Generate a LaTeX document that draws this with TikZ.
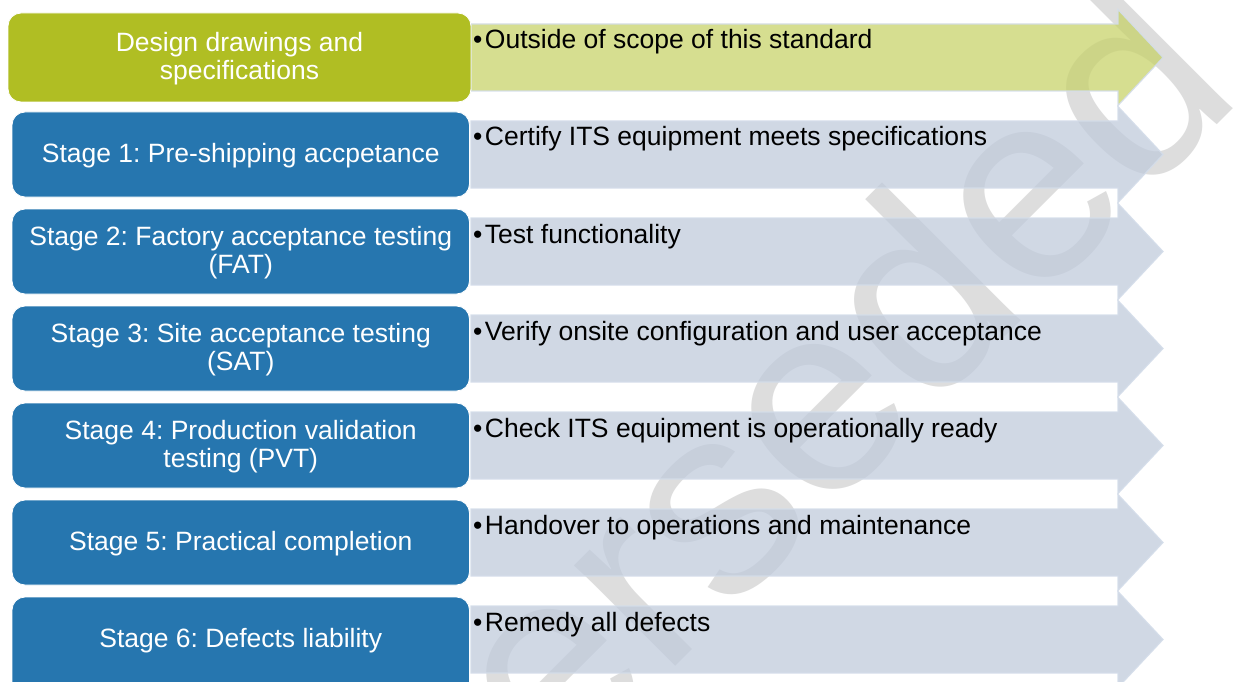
\documentclass[tikz,border=0pt]{standalone}
\usepackage{fontspec}
\setmainfont{Liberation Sans}
\frenchspacing
\definecolor{boxgreen}{RGB}{176,190,35}
\definecolor{boxblue}{RGB}{38,118,175}
\definecolor{arrblue}{RGB}{191,202,219}
\definecolor{arrgreen}{RGB}{199,210,104}
\definecolor{arredge}{RGB}{212,221,234}
\definecolor{wmgrey}{RGB}{221,221,221}
\newcommand\twoline[2]{\begin{tabular}[t]{@{}c@{}}#1\\#2\end{tabular}}
\newcommand\rowarrow[2]{%
  \path[arrowshape, fill=#2]
    (471,#1-33.5) -- (1118,#1-33.5) -- (1118,#1-48) -- (1163,#1)
    -- (1118,#1+48) -- (1118,#1+33.5) -- (471,#1+33.5) -- cycle;}
\begin{document}
\begin{tikzpicture}[x=1pt,y=-1pt,
  arrowshape/.style={fill opacity=0.73, draw=arredge, draw opacity=0.9, line width=1.2pt},
  stagebox/.style={fill=boxblue, draw=white, line width=0.8pt, rounded corners=13pt,
    minimum width=457.5pt, minimum height=85pt, inner sep=0pt, text=white,
    font=\fontsize{26.5}{28}\selectfont\frenchspacing, text height=16pt},
  oneline/.style={text depth=0pt},
  twolines/.style={text depth=28.5pt},
  desc/.style={anchor=base west, inner sep=0pt, text=black,
    font=\fontsize{26.5}{28}\selectfont\frenchspacing},
  wmark/.style={anchor=base west, rotate=45, inner sep=0pt, text=wmgrey,
    font=\fontsize{270}{270}\selectfont}]
\useasboundingbox (0,0) rectangle (1237,682);
\clip (0,0) rectangle (1237,682);
\fill[white] (0,0) rectangle (1237,682);
% watermark
\node[wmark] (watermark) at (216.5,1125.5) {Superseded};
% arrows
\rowarrow{57.5}{arrgreen}
\rowarrow{154.5}{arrblue}
\rowarrow{251.5}{arrblue}
\rowarrow{348.5}{arrblue}
\rowarrow{445.5}{arrblue}
\rowarrow{542.5}{arrblue}
\rowarrow{639.5}{arrblue}
% descriptions
\node[desc] (d0) at (473,49)  {\textbullet\hspace{2.5pt}Outside of scope of this standard};
\node[desc] (d1) at (473,146) {\textbullet\hspace{2.5pt}Certify ITS equipment meets specifications};
\node[desc] (d2) at (473,243) {\textbullet\hspace{2.5pt}Test functionality};
\node[desc] (d3) at (473,340) {\textbullet\hspace{2.5pt}Verify onsite configuration and user acceptance};
\node[desc] (d4) at (473,437) {\textbullet\hspace{2.5pt}Check ITS equipment is operationally ready};
\node[desc] (d5) at (473,534) {\textbullet\hspace{2.5pt}Handover to operations and maintenance};
\node[desc] (d6) at (473,631) {\textbullet\hspace{2.5pt}Remedy all defects};
% stage boxes
\node[stagebox, twolines, fill=boxgreen, minimum width=463pt, minimum height=89pt] (b0) at (239.5,57.5)
  {\twoline{Design drawings and}{specifications}};
\node[stagebox, oneline] (b1) at (240.75,154.5) {Stage 1: Pre-shipping accpetance};
\node[stagebox, twolines] (b2) at (240.75,251.5) {\twoline{Stage 2: Factory acceptance testing}{(FAT)}};
\node[stagebox, twolines] (b3) at (240.75,348.5) {\twoline{Stage 3: Site acceptance testing}{(SAT)}};
\node[stagebox, twolines] (b4) at (240.75,445.5) {\twoline{Stage 4: Production validation}{testing (PVT)}};
\node[stagebox, oneline] (b5) at (240.75,542.5) {Stage 5: Practical completion};
\node[stagebox, oneline, minimum height=100pt] (b6) at (240.75,647) {};
\node[inner sep=0pt, text=white, font=\fontsize{26.5}{28}\selectfont\frenchspacing, anchor=base] (t6) at (240.75,647.5) {Stage 6: Defects liability};
\end{tikzpicture}
\end{document}
